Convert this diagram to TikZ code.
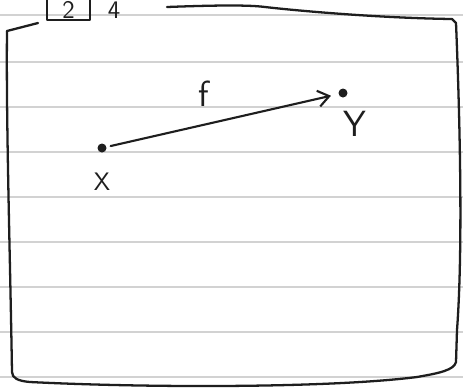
\documentclass[tikz,border=0pt]{standalone}
\usepackage{tikz}
\usetikzlibrary{arrows.meta,positioning}
\definecolor{ink}{HTML}{1E1E1E}
\definecolor{rulegray}{HTML}{D2D2D2}
\tikzset{
  >={Straight Barb[length=2.2mm,width=3.2mm]},
  ruling/.style={draw=rulegray,line width=.6pt},
  sketch/.style={draw=ink,line width=1.3pt,line cap=round,line join=round},
  dot/.style={circle,fill=ink,minimum size=1.8mm,inner sep=0pt},
  lbl/.style={font=\sffamily,text=ink,inner sep=1pt},
  flow/.style={->,sketch,line width=1.2pt,shorten >=1.5mm,shorten <=.8mm},
}

\begin{document}
\begin{tikzpicture}[x=0.02cm,y=-0.02cm]
  \useasboundingbox (0,0) rectangle (463,387);
  \clip (0,0) rectangle (463,387);
  \fill[white] (0,0) rectangle (463,387);
  % lined paper
  \foreach \yy in {15,62,107,152,197,242,287,332,377}
    \draw[ruling] (0,\yy) -- (463,\yy);
  % page number at the top
  \draw[sketch,line width=1pt] (47,-5) rectangle (90,20);
  \node[lbl,font=\sffamily\Large] (pnum) at (68.5,9.5) {2};
  \node[lbl,font=\sffamily\Large,inner sep=0pt] (psub) at (114,10.5) {4};
  % frame
  \draw[sketch] (7,31) -- (38,23);
  \draw[sketch] (167,7) .. controls (220,5) and (250,5) .. (265,7)
    .. controls (300,11) and (380,18) .. (452,19) -- (456,23)
    .. controls (460,120) and (463,250) .. (457,330)
    -- (456,362) .. controls (454,370) and (440,373) .. (417,377)
    .. controls (330,388) and (150,388) .. (30,382)
    .. controls (18,381) and (12,378) .. (12,372)
    .. controls (10,250) and (6,120) .. (7,31);
  % points and map
  \node[dot] (x) at (102,148) {};
  \node[dot] (y) at (343,93) {};
  \node[lbl,font=\sffamily\Large,below=3.5mm of x] (xlab) {X};
  \node[lbl,font=\sffamily\huge,below right=2.5mm and -1mm of y] (ylab) {Y};
  \draw[flow] (x) -- node[lbl,font=\sffamily\huge,pos=.42,above=3mm] (flab) {f} (y);
\end{tikzpicture}
\end{document}
